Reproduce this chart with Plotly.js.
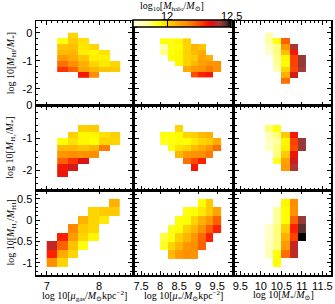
<!DOCTYPE html>
<html><head><meta charset="utf-8">
<script src="https://cdn.plot.ly/plotly-3.0.1.min.js"></script>
<style>html,body{margin:0;padding:0;background:#fff}</style>
</head><body><div id="chart" style="width:335px;height:304px"></div>
<script>
// ---- bin centres ----
const xGas = [7.3, 7.5, 7.7, 7.9, 8.1, 8.3];
const xGasR = [7.1, 7.3, 7.5, 7.7, 7.9, 8.1, 8.3];
const xStar = [8.1, 8.3, 8.5, 8.7, 8.9, 9.1, 9.3, 9.5];
const xMass = [10.2, 10.4, 10.6, 10.8, 11.0];

const yHIgas = [-0.1, -0.3, -0.5, -0.7, -0.9, -1.1, -1.3, -1.5];
const yHIstar = [-0.3, -0.5, -0.7, -0.9, -1.1, -1.3, -1.5];
const yHImass = [-0.1, -0.3, -0.5, -0.7, -0.9, -1.1, -1.3, -1.5, -1.7];
const yH2gas = [-0.7, -0.9, -1.1, -1.3, -1.5, -1.7, -1.9, -2.1];
const yH2star = [-0.7, -0.9, -1.1, -1.3, -1.5, -1.7, -1.9];
const yH2mass = [-0.7, -0.9, -1.1, -1.3, -1.5, -1.7, -1.9];
const yRgas = [0.4, 0.2, 0.0, -0.2, -0.4, -0.6, -0.8, -1.0];
const yRstar = [0.4, 0.2, 0.0, -0.2, -0.4, -0.6, -0.8];
const yRmass = [0.4, 0.2, 0.0, -0.2, -0.4, -0.6, -0.8, -1.0];

// ---- mean log10 halo mass per bin ----
const n = null;
const zHIgas = [
  [n, 12.0, n, n, n, n],
  [11.93, 12.02, 11.98, n, n, n],
  [12.03, 12.04, 11.97, 12.0, n, n],
  [12.05, 12.06, 11.96, 11.95, 11.98, n],
  [12.12, 12.08, 12.03, 11.96, 11.96, n],
  [12.2, 12.15, 12.07, 12.0, 11.97, 12.0],
  [12.28, 12.22, 12.1, 12.06, 12.03, 12.02],
  [n, n, 12.32, 12.15, n, n]
];
const zHIstar = [
  [11.94, 11.93, 11.95, 12.01, n, n, n, n],
  [11.82, 11.93, 11.94, 12.0, 12.06, 12.03, n, n],
  [11.86, 11.93, 11.95, 12.01, 12.05, 12.08, n, n],
  [n, 11.94, 11.95, 12.0, 12.02, 12.1, 12.07, n],
  [n, n, 11.95, 12.01, 12.06, 12.11, 12.13, 12.14],
  [n, n, n, 12.08, 12.12, 12.14, 12.18, 12.14],
  [n, n, n, n, 12.25, 12.3, 12.32, n]
];
const zHImass = [
  [11.82, n, n, n, n],
  [11.83, 11.93, 12.22, n, n],
  [11.79, 11.86, 12.13, 12.4, n],
  [11.77, 11.86, 12.04, 12.32, n],
  [n, 11.85, 11.95, 12.26, 12.42],
  [n, 11.84, 11.94, 12.26, 12.42],
  [n, 11.8, 12.0, 12.25, 12.41],
  [n, n, 12.07, 12.36, n],
  [n, n, 12.2, n, n]
];
const zH2gas = [
  [n, n, 12.01, 12.02, n, n],
  [n, 12.01, 11.95, 11.95, 11.98, 12.01],
  [11.94, 11.98, 11.95, 11.94, 12.0, 12.0],
  [12.05, 12.06, 12.03, 12.06, 12.18, n],
  [12.13, 12.15, 12.14, 12.15, n, n],
  [12.22, 12.28, 12.35, n, n, n],
  [12.32, 12.36, n, n, n, n],
  [12.33, n, n, n, n, n]
];
const zH2star = [
  [n, n, 12.0, n, n, n, n, n],
  [11.93, 11.93, 11.94, 12.0, 12.01, 12.05, 12.07, n],
  [11.92, 11.93, 11.94, 11.94, 11.97, 12.0, 12.02, 12.08],
  [n, 11.93, 11.98, 12.0, 12.05, 12.08, 12.13, 12.2],
  [n, n, 12.06, 12.12, 12.14, 12.15, 12.18, n],
  [n, n, n, 12.2, 12.25, 12.3, n, n],
  [n, n, n, n, 12.32, n, n, n]
];
const zH2mass = [
  [11.87, 11.93, n, n, n],
  [11.8, 11.87, 12.02, 12.32, n],
  [11.79, 11.83, 11.95, 12.26, 12.42],
  [11.79, 11.86, 11.96, 12.25, 12.42],
  [n, 11.86, 12.02, 12.33, n],
  [n, 11.92, 12.1, 12.36, n],
  [n, n, 12.12, 12.4, n]
];
const zRgas = [
  [n, n, n, n, n, n, 12.07],
  [n, n, n, n, 12.0, 12.02, 12.02],
  [n, n, n, 12.07, 12.0, 11.97, n],
  [n, n, 12.16, 12.02, 12.0, n, n],
  [n, 12.3, 12.12, 12.0, 11.95, n, n],
  [12.38, 12.22, 12.04, 11.93, n, n, n],
  [12.3, 12.08, 12.0, n, n, n, n],
  [12.15, 12.0, n, n, n, n, n]
];
const zRstar = [
  [n, n, n, n, n, 11.94, 12.02, n],
  [n, n, n, 11.93, 11.94, 11.97, 12.02, 12.1],
  [n, n, 11.93, 11.94, 12.0, 12.07, 12.13, 12.22],
  [n, 11.92, 11.94, 12.01, 12.06, 12.14, 12.22, 12.3],
  [11.9, 11.93, 12.01, 12.06, 12.13, 12.21, 12.3, n],
  [11.92, 12.0, 12.06, 12.13, 12.15, 12.22, n, n],
  [n, 12.05, 12.12, 12.15, 12.14, n, n, n]
];
const zRmass = [
  [n, n, 11.95, 12.15, n],
  [n, 11.84, 11.94, 12.14, n],
  [n, 11.84, 11.94, 12.22, 12.42],
  [11.78, 11.86, 12.01, 12.3, 12.46],
  [11.78, 11.86, 12.07, 12.26, 12.5],
  [11.79, 11.86, 12.12, 12.38, n],
  [11.8, 11.93, 12.2, 12.38, n],
  [n, 11.94, n, n, n]
];

// ---- ticks ----
const yTickVals12 = [0, -1, -2];
const yTickText12 = ['0', '-1', '-2'];
const yTickVals3 = [0.5, 0, -0.5, -1];
const yTickText3 = ['0.5', '0', '-0.5', '-1'];
const xTickGas = [7, 8];
const xTickStar = [7.5, 8, 8.5, 9, 9.5];
const xTickMass = [9.5, 10, 10.5, 11, 11.5];
const cbTickVals = [12, 12.5];
const cbTickText = ['12', '12.5'];

const panels = [
  [xGas, yHIgas, zHIgas], [xStar, yHIstar, zHIstar], [xMass, yHImass, zHImass],
  [xGas, yH2gas, zH2gas], [xStar, yH2star, zH2star], [xMass, yH2mass, zH2mass],
  [xGasR, yRgas, zRgas], [xStar, yRstar, zRstar], [xMass, yRmass, zRmass]
];

const W = 335, H = 304;
const colPx = [[36, 132], [135, 232], [235, 331]];
const rowPx = [[21, 105.5], [105.5, 190], [190, 275]];
const xRanges = [[6.795, 8.63], [7.34, 9.89], [9.37, 11.71]];
const yRanges = [[-2.59, 0.42], [-2.6, 0.0], [-1.29, 0.71]];
const xTicks = [xTickGas, xTickStar, xTickMass];
const xTitles = [
  'log 10[<i>μ</i><sub>gas</sub>/<i>M</i><sub>⊙</sub>kpc<sup>−2</sup>]',
  'log 10[<i>μ</i><sub>*</sub>/<i>M</i><sub>⊙</sub>kpc<sup>−2</sup>]',
  'log 10[<i>M</i><sub>*</sub>/<i>M</i><sub>⊙</sub>]'
];
const yTitles = [
  'log 10[<i>M</i><sub>HI</sub>/<i>M</i><sub>*</sub>]',
  'log 10[<i>M</i><sub>H₂</sub>/<i>M</i><sub>*</sub>]',
  'log 10[<i>M</i><sub>H₂</sub>/<i>M</i><sub>HI</sub>]'
];

const tickFont = {family: 'Liberation Sans, Arial, sans-serif', size: 11, color: '#000'};
const titleFont = {family: 'Liberation Serif, DejaVu Serif, serif', size: 10, color: '#000'};

const colorscale = [
  [0, '#ffffe8'], [0.15, '#ffff99'], [0.27, '#ffff00'], [0.35, '#ffd500'],
  [0.45, '#ffad00'], [0.55, '#ff8c00'], [0.65, '#ff5a00'], [0.75, '#ff1a00'],
  [0.8, '#e01010'], [0.88, '#a83a3a'], [0.95, '#5a3030'], [1, '#000000']
];

const cmin = 11.73, cmax = 12.5;
const cbLeft = 133, cbRight = 231;
const data = [];
const layout = {
  width: W, height: H,
  margin: {l: 0, r: 0, t: 0, b: 0},
  paper_bgcolor: '#fff', plot_bgcolor: '#fff',
  showlegend: false,
  coloraxis: {
    colorscale: colorscale, cmin: cmin, cmax: cmax,
    colorbar: {
      orientation: 'h', x: (cbLeft + cbRight) / 2 / W, xanchor: 'center', y: 1 - 20 / H, yanchor: 'top',
      len: (cbRight - cbLeft) / W, lenmode: 'fraction', thickness: 7, thicknessmode: 'pixels',
      outlinewidth: 1.5, outlinecolor: '#000', xpad: 0, ypad: 0,
      tickvals: cbTickVals, ticks: 'inside', ticklen: 7, tickcolor: '#000',
      showticklabels: false
    }
  },
  annotations: [{
    text: 'log<sub>10</sub>[<i>M</i><sub>halo</sub>/<i>M</i><sub>⊙</sub>]',
    xref: 'paper', yref: 'paper', x: 172 / W, y: 1 - 7 / H, xanchor: 'center', yanchor: 'middle',
    showarrow: false, font: titleFont
  }]
};
cbTickVals.forEach((v, i) => {
  const px = cbLeft + (v - cmin) / (cmax - cmin) * (cbRight - cbLeft);
  layout.annotations.push({
    text: cbTickText[i], xref: 'paper', yref: 'paper', x: px / W, y: 1 - 16 / H,
    xanchor: 'center', yanchor: 'middle', showarrow: false, font: tickFont
  });
});
xTitles.forEach((t, c) => {
  layout.annotations.push({
    text: t, xref: 'paper', yref: 'paper', x: (colPx[c][0] + colPx[c][1]) / 2 / W, y: 1 - 295.5 / H,
    xanchor: 'center', yanchor: 'middle', showarrow: false, font: titleFont
  });
});
yTitles.forEach((t, r) => {
  layout.annotations.push({
    text: t, xref: 'paper', yref: 'paper', x: 11 / W, y: 1 - (rowPx[r][0] + rowPx[r][1]) / 2 / H,
    xanchor: 'center', yanchor: 'middle', textangle: -90, showarrow: false, font: titleFont
  });
});

panels.forEach((p, i) => {
  const r = Math.floor(i / 3), c = i % 3;
  const k = i === 0 ? '' : String(i + 1);
  data.push({
    type: 'heatmap', x: p[0], y: p[1], z: p[2], coloraxis: 'coloraxis',
    xaxis: 'x' + k, yaxis: 'y' + k, hoverinfo: 'skip', zsmooth: false
  });
  const common = {
    showline: true, linecolor: '#000', linewidth: 1.5, mirror: 'allticks',
    ticks: 'inside', ticklen: 4, tickwidth: 1, tickcolor: '#000',
    zeroline: false, showgrid: false, fixedrange: true, tickfont: tickFont
  };
  layout['xaxis' + k] = Object.assign({}, common, {
    domain: [colPx[c][0] / W, colPx[c][1] / W], anchor: 'y' + k,
    range: xRanges[c], tickvals: xTicks[c], ticktext: xTicks[c].map(String),
    showticklabels: r === 2,
    minor: {ticks: 'inside', ticklen: 2, tickcolor: '#000', dtick: 0.1}
  });
  layout['yaxis' + k] = Object.assign({}, common, {
    domain: [1 - rowPx[r][1] / H, 1 - rowPx[r][0] / H], anchor: 'x' + k,
    range: yRanges[r],
    tickvals: r === 2 ? yTickVals3 : yTickVals12,
    ticktext: r === 2 ? yTickText3 : yTickText12,
    showticklabels: c === 0,
    minor: {ticks: 'inside', ticklen: 2, tickcolor: '#000', dtick: r === 2 ? 0.1 : 0.2}
  });
});

Plotly.newPlot('chart', data, layout, {displayModeBar: false, staticPlot: true});
</script>
</body></html>
